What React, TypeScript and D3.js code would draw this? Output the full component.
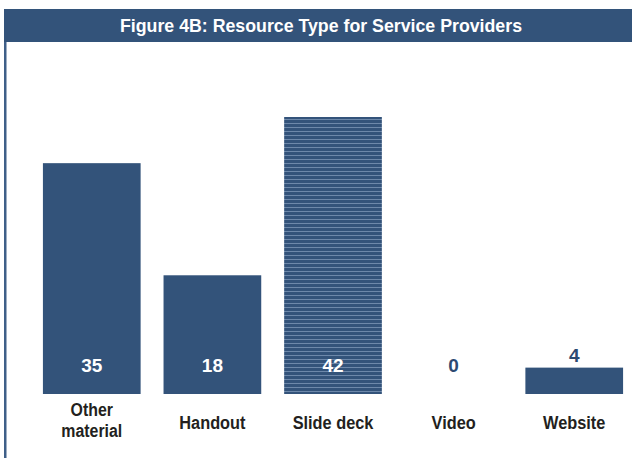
import React from 'react';
import * as d3 from 'd3';

const categories = ['Other material', 'Handout', 'Slide deck', 'Video', 'Website'];
const values = [35, 18, 42, 0, 4];
const striped = [false, false, true, false, false];
const title = 'Figure 4B: Resource Type for Service Providers';

const W = 632;
const H = 458;
const navy = '#33537a';
const font = '"Liberation Sans", Arial, sans-serif';

// condensed bold label, squeezed horizontally around its centre
const Label = ({ x, y, text, size = 19, fill = '#231f20' }: { x: number; y: number; text: string; size?: number; fill?: string }) => (
  <text
    transform={`translate(${x},${y}) scale(0.86,1)`}
    textAnchor="middle"
    fill={fill}
    fontFamily={font}
    fontWeight="bold"
    fontSize={size}
  >
    {text}
  </text>
);

export default function App() {
  const x = d3.scaleBand<string>().domain(categories).range([20, 646]).paddingInner(0.19).paddingOuter(0.19);
  const y = d3.scaleLinear().domain([0, 42]).range([394, 117]);
  const baseline = y(0);

  return (
    <svg width={W} height={H} style={{ position: 'absolute', left: 0, top: 0 }}>
      <defs>
        <pattern id="stripes" width="4" height="4" patternUnits="userSpaceOnUse">
          <rect width="4" height="4" fill={navy} />
          <rect y="3" width="4" height="1" fill="#6d88aa" />
        </pattern>
      </defs>
      <rect width={W} height={H} fill="#fff" />
      {/* title bar */}
      <rect x={4} y={9} width={W - 4} height={33} fill={navy} />
      <text
        x={321}
        y={32}
        textAnchor="middle"
        fill="#fff"
        fontFamily={font}
        fontWeight="bold"
        fontSize={19}
        textLength={402}
        lengthAdjust="spacingAndGlyphs"
      >
        {title}
      </text>
      {/* left frame line */}
      <rect x={4} y={42} width={2.5} height={H - 42} fill="#3f5f88" />

      {categories.map((c, i) => {
        const v = values[i];
        const bx = x(c)!;
        const bw = x.bandwidth();
        const cx = bx + bw / 2;
        const top = y(v);
        const inside = v >= 10;
        const lines = c === 'Other material' ? ['Other', 'material'] : [c];
        return (
          <g key={c}>
            {v > 0 && (
              <rect
                x={bx}
                y={top}
                width={bw}
                height={baseline - top}
                fill={striped[i] ? 'url(#stripes)' : navy}
              />
            )}
            <text
              x={cx}
              y={inside ? 372 : Math.min(372, top - 6)}
              textAnchor="middle"
              fill={inside ? '#fff' : '#2c4a72'}
              fontFamily={font}
              fontWeight="bold"
              fontSize={19}
            >
              {v}
            </text>
            {lines.length === 1 ? (
              <Label x={cx} y={429} text={lines[0]} />
            ) : (
              lines.map((l, k) => <Label key={l} x={cx} y={416 + k * 21} text={l} size={18.5} />)
            )}
          </g>
        );
      })}
    </svg>
  );
}
